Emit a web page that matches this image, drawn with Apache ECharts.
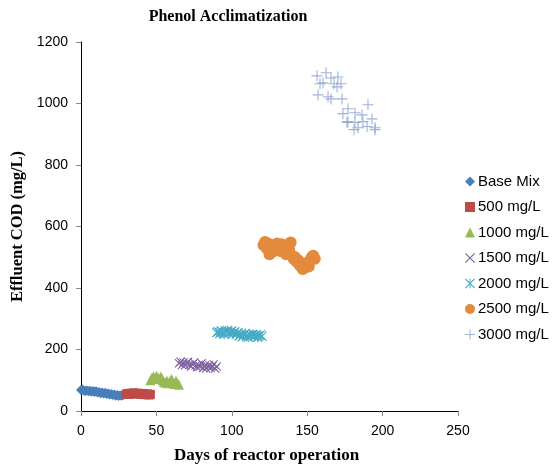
<!DOCTYPE html>
<html>
<head>
<meta charset="utf-8">
<script src="https://cdn.jsdelivr.net/npm/echarts@6/dist/echarts.min.js"></script>
<style>html,body{margin:0;padding:0;background:#fff}#c{width:554px;height:469px}</style>
</head>
<body>
<div id="c"></div>
<script>
var seriesNames = ['Base Mix', '500 mg/L', '1000 mg/L', '1500 mg/L', '2000 mg/L', '2500 mg/L', '3000 mg/L'];
var xTicks = [0, 50, 100, 150, 200, 250];
var yTicks = [0, 200, 400, 600, 800, 1000, 1200];

var baseMix = [[0,68],[1,70],[2,66],[3,65],[4,67],[5,64],[6,66],[7,63],[8,65],[9,62],[10,64],[11,60],[12,62],[13,58],[14,60],[15,57],[16,59],[17,55],[18,57],[19,54],[20,55],[21,52],[22,54],[23,50],[24,52],[25,49],[26,51],[27,50],[28,52]];
var mg500 = [[30,55],[31,57],[32,54],[33,58],[34,56],[35,59],[36,57],[37,55],[38,58],[39,56],[40,54],[41,57],[42,55],[43,53],[44,56],[45,52],[46,54]];
var mg1000 = [[46,100],[47,108],[48,112],[49,105],[50,115],[51,110],[52,104],[53,112],[54,100],[55,95],[56,92],[57,98],[58,90],[59,96],[60,104],[61,92],[62,88],[63,98],[64,90],[65,85]];
var mg1500 = [[65,155],[66,160],[67,150],[68,158],[69,148],[70,155],[71,160],[72,150],[73,145],[74,152],[75,158],[76,148],[77,142],[78,150],[79,145],[80,155],[81,140],[82,148],[83,138],[84,145],[85,150],[86,140],[87,145],[88,152],[89,138],[90,145]];
var mg2000 = [[90,255],[91,258],[92,252],[93,260],[94,255],[95,250],[96,258],[97,262],[98,254],[99,256],[100,260],[101,252],[102,257],[103,250],[104,255],[105,245],[106,250],[107,242],[108,248],[109,252],[110,245],[111,240],[112,248],[113,244],[114,250],[115,242],[116,247],[117,240],[118,245],[119,248],[120,243]];
var mg2500 = [[121,540],[122,550],[123,530],[124,545],[125,510],[126,525],[127,518],[128,540],[130,545],[131,535],[132,520],[133,542],[134,530],[135,518],[136,510],[137,540],[138,525],[139,548],[140,505],[141,495],[142,500],[143,485],[144,490],[145,475],[146,470],[147,462],[148,480],[149,468],[150,475],[151,470],[152,490],[153,500],[154,505],[155,495]];
var mg3000 = [[156.5,1090],[162.5,1100],[165.8,1083],[170.4,1086],[158.5,1064],[160.5,1067],[167.8,1064],[172.4,1064],[169.8,1054],[157.2,1028],[163.8,1022],[165.8,1015],[173.1,1015],[190.3,996],[177.1,983],[181.7,970],[186.3,963],[173.7,967],[193,950],[177,941],[181.7,938],[187,941],[176.4,938],[183.7,921],[189.7,925],[195,921],[195,915],[181,915]];

var allData = [baseMix, mg500, mg1000, mg1500, mg2000, mg2500, mg3000];
var colors = ['#4A7EBB', '#BE4B48', '#98B954', '#7D60A0', '#46AAC5', '#E48A3C', '#8EA4D0'];
var xPath = 'path://M0,0.8 L0.8,0 L10,9.2 L9.2,10 Z M9.2,0 L10,0.8 L0.8,10 L0,9.2 Z';
var starPath = 'path://M0,0.8 L0.8,0 L10,9.2 L9.2,10 Z M9.2,0 L10,0.8 L0.8,10 L0,9.2 Z M4.55,0 L5.45,0 L5.45,10 L4.55,10 Z';
var plusPath = 'path://M4.5,0 L5.5,0 L5.5,4.5 L10,4.5 L10,5.5 L5.5,5.5 L5.5,10 L4.5,10 L4.5,5.5 L0,5.5 L0,4.5 L4.5,4.5 Z';
var symbols = ['diamond', 'rect', 'triangle', xPath, starPath, 'circle', plusPath];
var sizes = [10, 9, 10, 9, 10, 12, 11];

var series = seriesNames.map(function (n, i) {
  return {
    name: n, type: 'scatter', data: allData[i],
    symbol: symbols[i], symbolSize: sizes[i],
    itemStyle: { color: colors[i], opacity: i === 6 ? 0.85 : 1 }
  };
});

var chart = echarts.init(document.getElementById('c'), null, { renderer: 'canvas' });
chart.setOption({
  animation: false,
  title: {
    text: 'Phenol Acclimatization', left: 223, top: 4, textAlign: 'center',
    textStyle: { fontFamily: 'Liberation Serif', fontWeight: 'bold', fontSize: 16, color: '#000' }
  },
  legend: {
    orient: 'vertical', left: 460, top: 169, itemWidth: 10, itemHeight: 10, itemGap: 10.5,
    textStyle: { fontFamily: 'Liberation Sans', fontSize: 15, color: '#000', padding: [0, 0, 0, -2] },
    data: seriesNames
  },
  grid: { left: 81, right: 96, top: 42, bottom: 57 },
  xAxis: {
    type: 'value', min: 0, max: 250, interval: 50,
    name: 'Days of reactor operation', nameLocation: 'middle', nameGap: 36,
    nameTextStyle: { fontFamily: 'Liberation Serif', fontWeight: 'bold', fontSize: 17, color: '#000', padding: [0, 6, 0, 0] },
    axisLine: { show: true, lineStyle: { color: '#000', width: 1 } },
    axisTick: { show: true, length: 5, lineStyle: { color: '#888' } },
    axisLabel: { fontFamily: 'Liberation Sans', fontSize: 14, color: '#000', margin: 13,
      formatter: function (v) { return String(v); } },
    splitLine: { show: false }
  },
  yAxis: {
    type: 'value', min: 0, max: 1200, interval: 200,
    name: 'Effluent COD (mg/L)', nameLocation: 'middle', nameGap: 54, nameRotate: 90,
    nameTextStyle: { fontFamily: 'Liberation Serif', fontWeight: 'bold', fontSize: 16.5, color: '#000' },
    axisLine: { show: true, lineStyle: { color: '#000', width: 1 } },
    axisTick: { show: true, length: 5, lineStyle: { color: '#888' } },
    axisLabel: { fontFamily: 'Liberation Sans', fontSize: 14, color: '#000', margin: 13,
      formatter: function (v) { return String(v); } },
    splitLine: { show: false }
  },
  series: series
});
</script>
</body>
</html>
